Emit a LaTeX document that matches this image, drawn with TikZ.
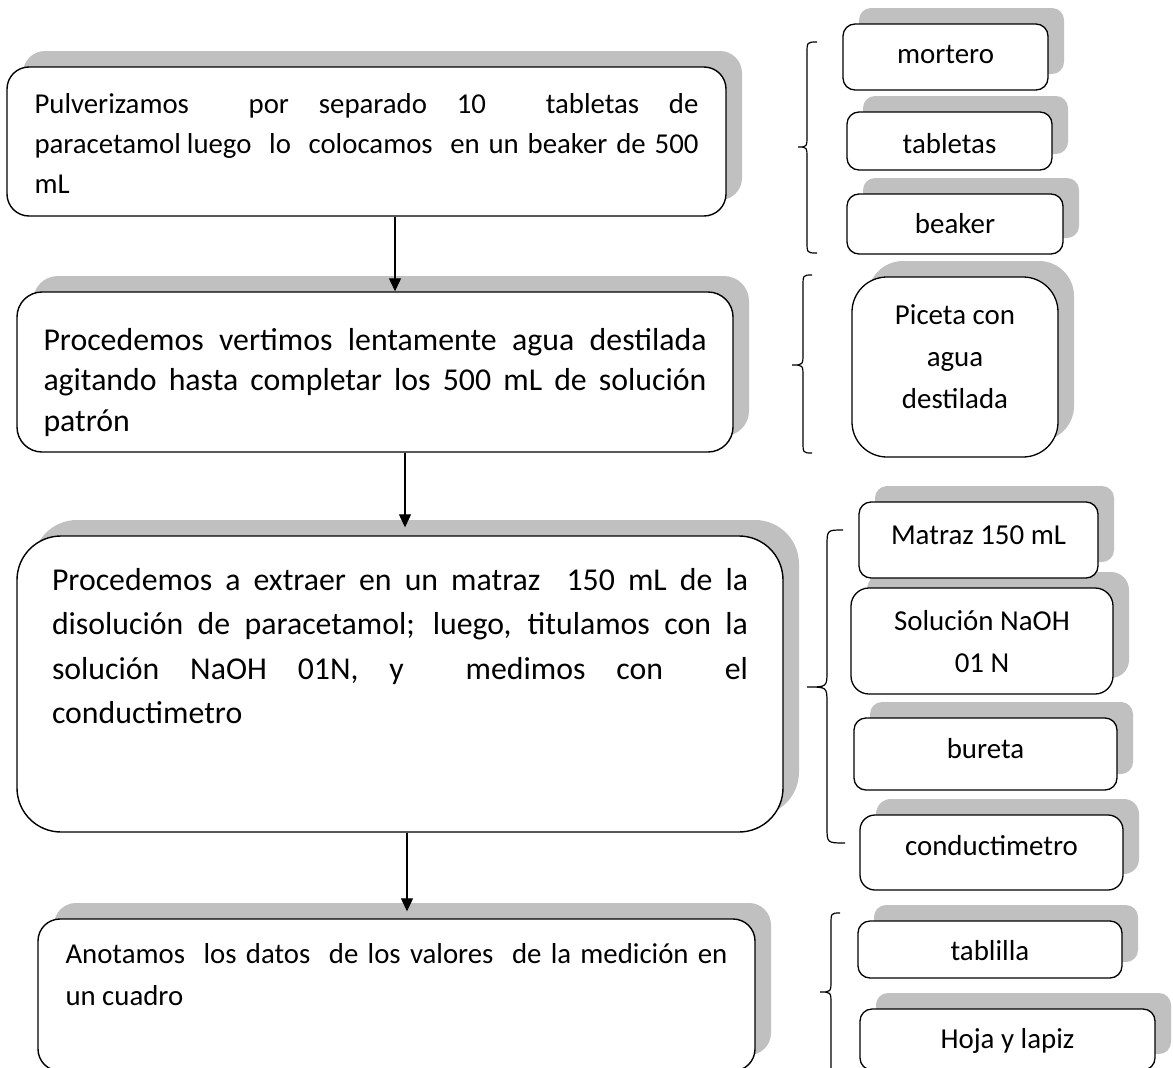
\documentclass[tikz,border=0pt]{standalone}
\usepackage{fontspec}
\setmainfont{Carlito}
\usetikzlibrary{arrows.meta}
\definecolor{shadowgray}{RGB}{192,192,192}
\tikzset{
  shadowed/.style={preaction={fill=shadowgray, draw=none, transform canvas={xshift=16pt,yshift=16pt}}},
  mainbox/.style={shadowed, draw=black, fill=white, line width=1.4pt, inner sep=0pt, font=\fontsize{28.7}{41}\selectfont},
  smallbox/.style={shadowed, draw=black, fill=white, line width=1.3pt, inner sep=0pt, rounded corners=12pt, font=\fontsize{28.9}{42}\selectfont},
  arr/.style={-{Triangle[length=13pt,width=12pt]}, line width=1.2pt},
  bracestyle/.style={line width=1.2pt}
}
\begin{document}
\begin{tikzpicture}[x=1pt,y=-1pt]
\useasboundingbox (0,0) rectangle (1173,1068);

% ---- main boxes ----
\node[mainbox, rounded corners=22pt, minimum width=719pt, minimum height=149pt] (b1) at (366.5,141.5)
 {\parbox[c][149pt][t]{664pt}{\fontsize{28.8}{40}\selectfont\rule{0pt}{46pt}\makebox[664pt][s]{Pulverizamos\ \ por separado 10\ \ tabletas de}\\\makebox[664pt][s]{paracetamol\hspace{6pt}luego\ \ lo\ \ colocamos\ \ en un beaker de 500}\\mL}};

\node[mainbox, rounded corners=25pt, minimum width=716pt, minimum height=160pt] (b2) at (375,372)
 {\parbox[c][160pt][t]{663pt}{\fontsize{31.8}{40.5}\selectfont\rule{0pt}{58pt}\makebox[663pt][s]{Procedemos vertimos lentamente agua destilada}\\\makebox[663pt][s]{agitando hasta completar los 500 mL de solución}\\patrón}};

\node[mainbox, rounded corners=44pt, minimum width=766pt, minimum height=296pt] (b3) at (400,684)
 {\parbox[c][296pt][t]{696pt}{\fontsize{31.8}{44.5}\selectfont\rule{0pt}{54pt}\makebox[696pt][s]{Procedemos a extraer en un matraz\ \ 150 mL de la}\\\makebox[696pt][s]{disolución de paracetamol; luego, titulamos con la}\\\makebox[696pt][s]{solución NaOH 01N, y\ \ medimos con\ \ el}\\conductimetro}};

\node[mainbox, rounded corners=22pt, minimum width=717pt, minimum height=152pt] (b4) at (396.5,995)
 {\parbox[c][152pt][t]{662pt}{\fontsize{28.8}{42}\selectfont\rule{0pt}{44pt}\makebox[662pt][s]{Anotamos\ \ los datos\ \ de los valores\ \ de la medición en}\\un cuadro}};

% ---- arrows ----
\coordinate (ax1) at (395,0);
\coordinate (ax2) at (405,0);
\coordinate (ax3) at (407,0);
\draw[arr] (b1.south -| ax1) -- (b2.north -| ax1);
\draw[arr, shorten >=8pt] (b2.south -| ax2) -- (b3.north -| ax2);
\draw[arr, shorten >=7pt] (b3.south -| ax3) -- (b4.north -| ax3);

% ---- small boxes ----
\node[smallbox, minimum width=205pt, minimum height=66pt] (m1) at (945.5,57)
 {\parbox[c][66pt][t]{195pt}{\centering\rule{0pt}{39pt}mortero}};
\node[smallbox, minimum width=205pt, minimum height=58pt] (m2) at (949.5,141)
 {\parbox[c][58pt][t]{195pt}{\centering\rule{0pt}{41pt}tabletas}};
\node[smallbox, minimum width=216pt, minimum height=60pt] (m3) at (955,224)
 {\parbox[c][60pt][t]{206pt}{\centering\rule{0pt}{39pt}beaker}};

\node[smallbox, rounded corners=35pt, minimum width=206pt, minimum height=180pt] (p1) at (955,367)
 {\parbox[c][180pt][t]{196pt}{\centering\rule{0pt}{47pt}Piceta con\\agua\\destilada}};

\node[smallbox, rounded corners=18pt, minimum width=262pt, minimum height=106pt] (s2) at (982,641)
 {\parbox[c][106pt][t]{252pt}{\centering\rule{0pt}{42pt}Solución NaOH\\01 N}};
\node[smallbox, minimum width=239pt, minimum height=76pt] (s1) at (978.5,540)
 {\parbox[c][76pt][t]{229pt}{\centering\rule{0pt}{42pt}Matraz 150 mL}};
\node[smallbox, minimum width=263pt, minimum height=72pt] (s3) at (985.5,754)
 {\parbox[c][72pt][t]{253pt}{\centering\rule{0pt}{40pt}bureta}};
\node[smallbox, rounded corners=15pt, minimum width=263pt, minimum height=75pt] (s4) at (991.5,852.5)
 {\parbox[c][75pt][t]{253pt}{\centering\rule{0pt}{40pt}conductimetro}};

\node[smallbox, minimum width=264pt, minimum height=57pt] (t1) at (990,949.5)
 {\parbox[c][57pt][t]{254pt}{\centering\rule{0pt}{39pt}tablilla}};
\node[smallbox, minimum width=295pt, minimum height=61pt] (t2) at (1007.5,1039.5)
 {\parbox[c][61pt][t]{285pt}{\centering\rule{0pt}{39pt}Hoja y lapiz}};

% ---- braces ----
\draw[bracestyle] (817,42) .. controls (807,42) .. (807,54) -- (807,135)
  .. controls (807,147) .. (798,147) .. controls (807,147) .. (807,159)
  -- (807,241) .. controls (807,253) .. (817,253);
\draw[bracestyle] (812,275) .. controls (803,275) .. (803,287) -- (803,353)
  .. controls (803,365) .. (792,365) .. controls (803,365) .. (803,377)
  -- (803,441) .. controls (803,453) .. (812,453);
\draw[bracestyle] (843,530) .. controls (827,530) .. (827,546) -- (827,671)
  .. controls (827,687) .. (807,687) .. controls (827,687) .. (827,703)
  -- (827,827) .. controls (827,843) .. (845,843);
\draw[bracestyle] (840,913) .. controls (831,913) .. (831,925) -- (831,980)
  .. controls (831,992) .. (820,992) .. controls (831,992) .. (831,1004)
  -- (831,1085);
\end{tikzpicture}
\end{document}
